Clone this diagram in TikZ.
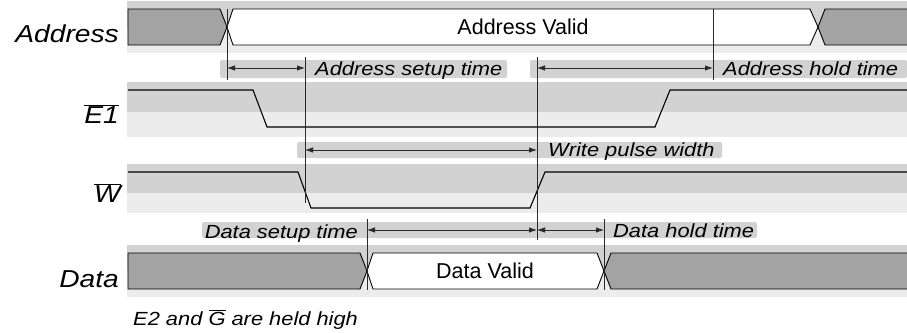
\documentclass[tikz,border=0pt]{standalone}
\usepackage{fontspec}
\setmainfont{Liberation Sans}
\newfontfamily\widefont[FakeStretch=1.15]{Liberation Sans}
\usepackage{tikz}
\usetikzlibrary{arrows.meta}
\definecolor{tband}{HTML}{D2D2D2}
\definecolor{tlight}{HTML}{ECECEC}
\definecolor{tbus}{HTML}{A3A3A3}
\definecolor{tline}{HTML}{2A2A2A}
\newcommand{\rowband}[3]{%
  \fill[tband] (127,#1) rectangle (907,#2);
  \fill[tlight] (127,#2) rectangle (907,#3);
}
\newcommand{\labelbg}[4]{%
  \fill[tband, rounded corners=2pt] (#1,#2) rectangle (#3,#4);
}
\newcommand{\ovl}[1]{$\overline{\mbox{#1}}$}

\begin{document}
\begin{tikzpicture}[x=1pt, y=-1pt,
  sigline/.style={line width=1.1pt},
  busfill/.style={draw, line width=0.9pt},
  edgeline/.style={tline, line width=0.8pt},
  dimarrow/.style={tline, line width=0.8pt,
    {Latex[length=8pt,width=5.5pt]}-{Latex[length=8pt,width=5.5pt]}},
  signame/.style={font=\widefont\itshape\fontsize{24.5}{27}\selectfont,
    anchor=base east, inner sep=0pt},
  timelbl/.style={font=\widefont\itshape\fontsize{19}{21}\selectfont,
    anchor=base west, inner sep=0pt},
  buslbl/.style={font=\fontsize{21.5}{24}\selectfont, anchor=base, inner sep=0pt}]

  \useasboundingbox (0,0) rectangle (907,332);

  %% row backgrounds
  \rowband{1}{27}{53}
  \rowband{82}{112}{137}
  \rowband{164}{193}{213}
  \rowband{245}{271}{297}
  \labelbg{220}{60}{507}{78}
  \labelbg{530}{60}{907}{78}
  \labelbg{297}{142}{722}{158}
  \labelbg{202}{222}{757}{238}

  %% Address
  \node[signame] (nAddr) at (119,42) {Address};
  \filldraw[busfill, fill=tbus] (220,9) -- (128,9) -- (128,45) -- (220,45) -- (227,27) -- cycle;
  \filldraw[busfill, fill=white] (233,9) -- (810,9) -- (818,27) -- (810,45)
    -- (233,45) -- (227,27) -- cycle;
  \fill[tbus] (907,9) -- (825,9) -- (818,27) -- (825,45) -- (907,45) -- cycle;
  \draw[busfill] (907,9) -- (825,9) -- (818,27) -- (825,45) -- (907,45);
  \node[buslbl] (vAddr) at (523,34) {Address Valid};

  %% E1
  \node[signame] (nE) at (119,123) {\ovl{E1}};
  \draw[sigline] (128,90) -- (253,90) -- (267,127) -- (655,127) -- (670,90) -- (907,90);

  %% W
  \node[signame] (nW) at (121,202) {\ovl{W}};
  \draw[sigline] (128,172) -- (298,172) -- (311,208) -- (530,208) -- (545,172) -- (907,172);

  %% Data
  \node[signame] (nData) at (119,287) {Data};
  \filldraw[busfill, fill=tbus] (360,253) -- (128,253) -- (128,289) -- (360,289) -- (367,271) -- cycle;
  \filldraw[busfill, fill=white] (373,253) -- (597,253) -- (604,271) -- (597,289)
    -- (373,289) -- (367,271) -- cycle;
  \fill[tbus] (907,253) -- (611,253) -- (604,271) -- (611,289) -- (907,289) -- cycle;
  \draw[busfill] (907,253) -- (611,253) -- (604,271) -- (611,289) -- (907,289);
  \node[buslbl] (vData) at (485,278) {Data Valid};

  %% timing edges
  \draw[edgeline] (227,9) -- (227,80);
  \draw[edgeline] (305,57) -- (305,203);
  \draw[edgeline] (537,57) -- (537,240);
  \draw[edgeline] (713,9) -- (713,80);
  \draw[edgeline] (367,219) -- (367,290);
  \draw[edgeline] (604,219) -- (604,290);

  \coordinate (asL) at (227,68);
  \coordinate (asR) at (305,68);
  \coordinate (ahL) at (537,68);
  \coordinate (ahR) at (713,68);
  \coordinate (wpL) at (305,150);
  \coordinate (wpR) at (537,150);
  \coordinate (dsL) at (367,230);
  \coordinate (dsR) at (537,230);
  \coordinate (dhR) at (604,230);

  \draw[dimarrow] (asL) -- (asR);
  \draw[dimarrow] (ahL) -- (ahR);
  \draw[dimarrow] (wpL) -- (wpR);
  \draw[dimarrow] (dsL) -- (dsR);
  \draw[dimarrow] (dsR) -- (dhR);

  \node[timelbl] (tAs) at (315,75) {Address setup time};
  \node[timelbl] (tAh) at (723,75) {Address hold time};
  \node[timelbl] (tWp) at (548,156) {Write pulse width};
  \node[timelbl, anchor=base east] (tDs) at (358,238) {Data setup time};
  \node[timelbl] (tDh) at (613,237) {Data hold time};

  %% note
  \node[timelbl] (note) at (133,325) {E2 and \ovl{G} are held high};

\end{tikzpicture}
\end{document}
